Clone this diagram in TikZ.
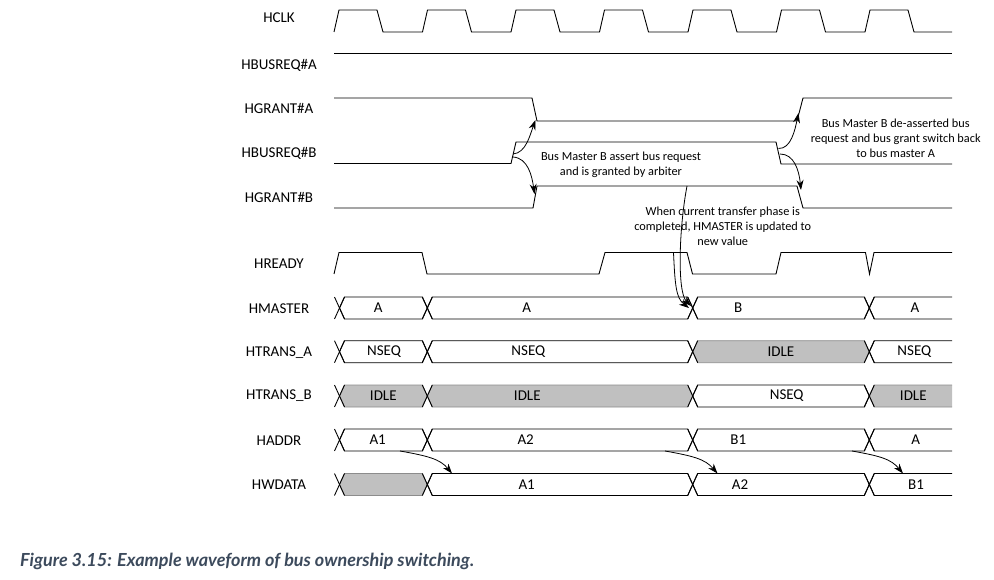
\documentclass[tikz,border=0pt]{standalone}
\usepackage{fontspec}
\setmainfont{Carlito}
\newfontfamily\capfont{Lato}
\usetikzlibrary{arrows.meta}
\definecolor{busgray}{HTML}{C0C0C0}
\definecolor{edgegray}{HTML}{8C8C8C}
\definecolor{captxt}{HTML}{3C4A5C}
\tikzset{
  wave/.style={line width=0.9pt, black, line join=miter},
  sig/.style={font=\fontsize{15}{18}\selectfont, anchor=center, inner sep=0pt},
  note/.style={font=\fontsize{12.3}{15}\selectfont, align=center, inner sep=0pt},
  buslbl/.style={font=\fontsize{15}{18}\selectfont, inner sep=0pt},
  whiteseg/.style={fill=white, draw=black, line width=0.9pt},
  grayseg/.style={fill=busgray, draw=edgegray, line width=0.9pt},
  tipline/.style={-{Stealth[length=10pt,width=7pt]}, line width=0.8pt, black},
}
% segment between crossings #1 and #2, centre y #3, style #4, label name #5, label x #6, text #7
\newcommand\busseg[7]{%
  \path[#4] (#1,#3) -- ({#1+5},{#3-11}) -- ({#2-5},{#3-11}) -- (#2,#3) -- ({#2-5},{#3+11}) -- ({#1+5},{#3+11}) -- cycle;
  \node[buslbl] (#5) at (#6,#3) {#7};
}
% open segment from crossing #1 to the right end
\newcommand\busend[6]{%
  \path[#3, draw=none] (#1,#2) -- ({#1+5},{#2-11}) -- (952,{#2-11}) -- (952,{#2+11}) -- ({#1+5},{#2+11}) -- cycle;
  \path[#3, fill=none] (952,{#2-11}) -- ({#1+5},{#2-11}) -- (#1,#2) -- ({#1+5},{#2+11}) -- (952,{#2+11});
  \node[buslbl] (#4) at (#5,#2) {#6};
}
\newcommand\busx[1]{%
  \foreach \c in {339.5,427.3,692.7,869.3}{
    \draw[wave] ({\c-5},{#1-11}) -- ({\c+5},{#1+11});
    \draw[wave] ({\c-5},{#1+11}) -- ({\c+5},{#1-11});
  }
}
\begin{document}
\begin{tikzpicture}[x=1pt,y=-1pt]
\useasboundingbox (0,0) rectangle (994,580);

% signal names
\node[sig] (lclk)  at (279,18)    {HCLK};
\node[sig] (lbra)  at (279,65)    {HBUSREQ\#A};
\node[sig] (lgna)  at (279,108)   {HGRANT\#A};
\node[sig] (lbrb)  at (279,153.3) {HBUSREQ\#B};
\node[sig] (lgnb)  at (279,197.3) {HGRANT\#B};
\node[sig] (lrdy)  at (279,264)   {HREADY};
\node[sig] (lmst)  at (279,308.3) {HMASTER};
\node[sig] (ltra)  at (279,352.3) {HTRANS\_A};
\node[sig] (ltrb)  at (279,396)   {HTRANS\_B};
\node[sig] (ladr)  at (279,440.7) {HADDR};
\node[sig] (lwd)   at (279,485)   {HWDATA};

% HCLK
\draw[wave] (334,32) \foreach \k in {0,...,6}{ -- ({334+88.5*\k},32) -- ({339+88.5*\k},10) -- ({377+88.5*\k},10) -- ({383+88.5*\k},32) } -- (952,32);
% HBUSREQ#A
\draw[wave] (334,53) -- (952,53);
% HGRANT#A
\draw[wave] (334,98) -- (532,98) -- (537,121) -- (797,121) -- (803,98) -- (952,98);
% HBUSREQ#B
\draw[wave] (334,163.5) -- (511,163.5) -- (516,142) -- (776,142) -- (781,164) -- (952,164);
% HGRANT#B
\draw[wave] (334,208) -- (533,208) -- (537,186) -- (797,186) -- (803,208) -- (952,208);
% HREADY
\draw[wave] (334,274) -- (339,252.5) -- (422,252.5) -- (427,274) -- (599,274) -- (605,252.5) -- (687,252.5) -- (692.5,274) -- (776,274) -- (781,252.5) -- (865.5,252.5) -- (869.5,274) -- (874,252.5) -- (952,252.5);

% HMASTER
\busseg{339.5}{427.3}{308}{whiteseg}{m1}{378.3}{A}
\busseg{427.3}{692.7}{308}{whiteseg}{m2}{526.7}{A}
\busseg{692.7}{869.3}{308}{whiteseg}{m3}{738.3}{B}
\busend{869.3}{308}{whiteseg}{m4}{915}{A}
\busx{308}
% HTRANS_A
\busseg{339.5}{427.3}{351.7}{whiteseg}{ta1}{384}{NSEQ}
\busseg{427.3}{692.7}{351.7}{whiteseg}{ta2}{528.3}{NSEQ}
\busseg{692.7}{869.3}{351.7}{grayseg}{ta3}{781}{IDLE}
\busend{869.3}{351.7}{whiteseg}{ta4}{914.3}{NSEQ}
\busx{351.7}
% HTRANS_B
\busseg{339.5}{427.3}{396}{grayseg}{tb1}{383.3}{IDLE}
\busseg{427.3}{692.7}{396}{grayseg}{tb2}{527.3}{IDLE}
\busseg{692.7}{869.3}{396}{whiteseg}{tb3}{786.7}{NSEQ}
\busend{869.3}{396}{grayseg}{tb4}{913.3}{IDLE}
\busx{396}
% HADDR
\busseg{339.5}{427.3}{440}{whiteseg}{a1}{377.7}{A1}
\busseg{427.3}{692.7}{440}{whiteseg}{a2}{525.7}{A2}
\busseg{692.7}{869.3}{440}{whiteseg}{a3}{738.3}{B1}
\busend{869.3}{440}{whiteseg}{a4}{915.7}{A}
\busx{440}
% HWDATA
\busseg{339.5}{427.3}{484.5}{grayseg}{w1}{383.4}{}
\busseg{427.3}{692.7}{484.5}{whiteseg}{w2}{526.7}{A1}
\busseg{692.7}{869.3}{484.5}{whiteseg}{w3}{740}{A2}
\busend{869.3}{484.5}{whiteseg}{w4}{916}{B1}
\busx{484.5}

% annotations
\node[note] (n1) at (621,164.5) {Bus Master B assert bus request\\and is granted by arbiter};
\node[note] (n2) at (895.7,138.3) {Bus Master B de-asserted bus\\request and bus grant switch back\\to bus master A};
\node[note] (n3) at (722.7,226) {When current transfer phase is\\completed, HMASTER is updated to\\new value};

% arrow end points
\coordinate (bqLu) at (513,154);
\coordinate (bqLd) at (513,157);
\coordinate (gaL)  at (535.5,120);
\coordinate (gbL)  at (534.5,194);
\coordinate (bqRu) at (778.5,148.5);
\coordinate (bqRd) at (780,154);
\coordinate (gaR)  at (798.5,113);
\coordinate (gbR)  at (801,190);
\coordinate (srcA) at (687,186);
\coordinate (srcB) at (673.5,252.5);
\coordinate (dstA) at (691,306);
\coordinate (dstB) at (689,308);
\coordinate (ad1) at (400,451);   \coordinate (wd1) at (452,473.5);
\coordinate (ad2) at (665,451);   \coordinate (wd2) at (717.5,473.5);
\coordinate (ad3) at (852,451);   \coordinate (wd3) at (903,473.5);

\draw[tipline] (bqLu) .. controls (526,153) and (530,135) .. (gaL);
\draw[tipline] (bqLd) .. controls (528,158) and (532,176) .. (gbL);
\draw[tipline] (bqRu) .. controls (791,149) and (795,130) .. (gaR);
\draw[tipline] (bqRd) .. controls (794,154) and (799,170) .. (gbR);
\draw[tipline] (srcA) .. controls (679,228) and (677,292) .. (dstA);
\draw[tipline] (srcB) .. controls (675,285) and (676,298) .. (dstB);
\draw[tipline] (ad1) .. controls (428,456) and (440,459) .. (wd1);
\draw[tipline] (ad2) .. controls (693,456) and (705,459) .. (wd2);
\draw[tipline] (ad3) .. controls (880,456) and (891,459) .. (wd3);

% caption
\node[anchor=west, text=captxt, inner sep=0pt, font=\capfont\bfseries\itshape\fontsize{18}{21}\selectfont] (cap) at (20,561.7) {Figure 3.15: Example waveform of bus ownership switching.};
\end{tikzpicture}
\end{document}
